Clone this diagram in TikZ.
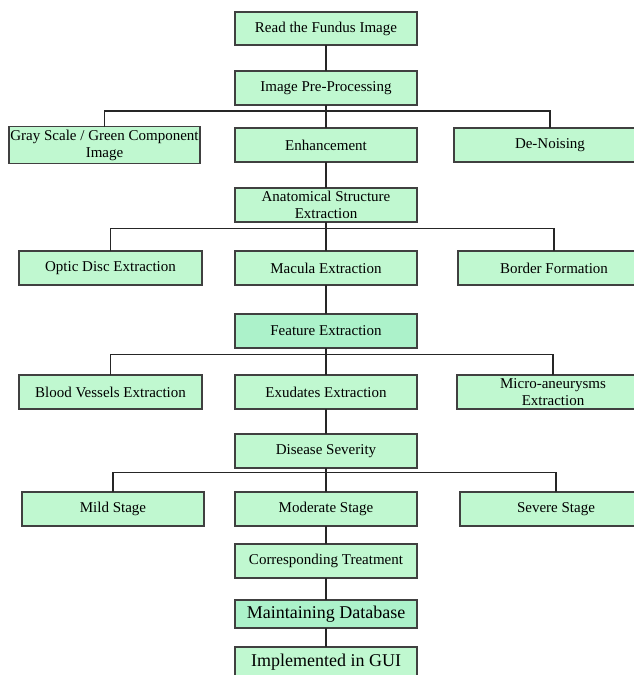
\documentclass[tikz,border=0pt]{standalone}
\usepackage{fontspec}
\setmainfont{Liberation Serif}
\usetikzlibrary{positioning}
\definecolor{boxfill}{RGB}{192,248,208}
\definecolor{boxfilldark}{RGB}{172,242,202}
\definecolor{edgegray}{RGB}{64,64,64}
\tikzset{
stage/.style={draw=edgegray, line width=1.1pt, fill=boxfill, minimum width=182pt, minimum height=34pt, inner sep=1pt, outer sep=0pt, align=center, font=\fontsize{15}{17}\selectfont},
bigstage/.style={stage, font=\fontsize{18}{20}\selectfont},
link/.style={draw=black!85, line width=1.1pt}
}
\begin{document}
\begin{tikzpicture}
\useasboundingbox (0,0) rectangle (633pt,-675pt);
% main column
\node [stage, minimum height=33pt] at (326pt,-28.5pt) (read) {Read the Fundus Image};
\node [stage, below=26pt of read] (pre) {Image Pre-Processing};
\node [stage, below=23pt of pre] (enh) {Enhancement};
\node [stage, below=26pt of enh] (anat) {Anatomical Structure\\Extraction};
\node [stage, below=29pt of anat] (macula) {Macula Extraction};
\node [stage, fill=boxfilldark, below=29pt of macula] (feat) {Feature Extraction};
\node [stage, below=27pt of feat] (exud) {Exudates Extraction};
\node [stage, below=25pt of exud] (sev) {Disease Severity};
\node [stage, below=24pt of sev] (moderate) {Moderate Stage};
\node [stage, below=18pt of moderate] (treat) {Corresponding Treatment};
\node [bigstage, fill=boxfilldark, minimum height=28pt, below=22pt of treat] (db) {Maintaining Database};
\node [bigstage, minimum height=30pt, below=19pt of db] (gui) {Implemented in GUI};
% side branches
\node [stage, minimum width=191pt, minimum height=37pt, left=35pt of enh] (gray) {Gray Scale / Green Component\\Image};
\node [stage, minimum width=192pt, right=37pt of enh] (denoise) {De-Noising};
\node [stage, minimum width=183pt, left=33pt of macula] (optic) {Optic Disc Extraction};
\node [stage, minimum width=192pt, right=41pt of macula] (border) {Border Formation};
\node [stage, minimum width=183pt, left=33pt of exud] (vessel) {Blood Vessels Extraction};
\node [stage, minimum width=192pt, right=40pt of exud] (micro) {Micro-aneurysms\\Extraction};
\node [stage, left=31pt of moderate] (mild) {Mild Stage};
\node [stage, minimum width=192pt, right=43pt of moderate] (severe) {Severe Stage};
% bus points
\coordinate [below=6pt of pre.south] (bus1);
\coordinate [below=6.5pt of anat.south] (bus2);
\coordinate [below=6.5pt of feat.south] (bus3);
\coordinate [below=4.5pt of sev.south] (bus4);
% connectors
\draw [link] (read) -- (pre);
\draw [link] (pre) -- (enh);
\draw [link] (gray.north) |- (bus1) -| (denoise.north);
\draw [link] (enh) -- (anat);
\draw [link] (anat) -- (macula);
\draw [link] (optic.north) |- (bus2) -| (border.north);
\draw [link] (macula) -- (feat);
\draw [link] (feat) -- (exud);
\draw [link] (vessel.north) |- (bus3) -| (micro.north);
\draw [link] (exud) -- (sev);
\draw [link] (sev) -- (moderate);
\draw [link] (mild.north) |- (bus4) -| (severe.north);
\draw [link] (moderate) -- (treat);
\draw [link] (treat) -- (db);
\draw [link] (db) -- (gui);
\end{tikzpicture}
\end{document}
